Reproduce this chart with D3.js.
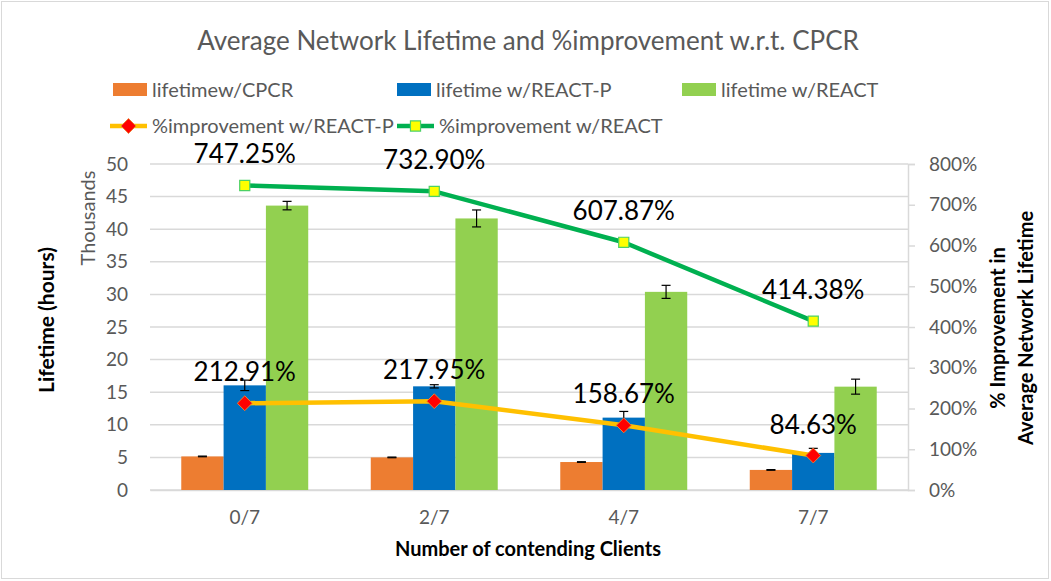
<!DOCTYPE html>
<html>
<head>
<meta charset="utf-8">
<script src="https://cdn.jsdelivr.net/npm/d3@7"></script>
<style>
  html, body { margin: 0; padding: 0; background: #fff; }
  svg { display: block; font-family: Lato, "Open Sans", sans-serif; }
</style>
</head>
<body>
<svg id="chart" width="1051" height="581"></svg>
<script>
// Number of contending clients
const categories = ["0/7", "2/7", "4/7", "7/7"];

// Average lifetime in thousands of hours
const lifetimeCPCR   = [5.15, 5.00, 4.29, 3.08];
const lifetimeReactP = [16.05, 15.90, 11.10, 5.69];
const lifetimeReact  = [43.62, 41.65, 30.39, 15.85];

// Error bar half-widths (thousands of hours)
const errCPCR   = [0.05, 0.05, 0.05, 0.05];
const errReactP = [0.80, 0.25, 0.95, 0.70];
const errReact  = [0.65, 1.30, 1.00, 1.15];

// % improvement over CPCR
const improvReactP = [212.91, 217.95, 158.67, 84.63];
const improvReact  = [747.25, 732.90, 607.87, 414.38];

const leftTicks  = [0, 5, 10, 15, 20, 25, 30, 35, 40, 45, 50];
const rightTicks = [0, 100, 200, 300, 400, 500, 600, 700, 800];

const barSeries = [
  { name: "lifetimew/CPCR",        values: lifetimeCPCR,   err: errCPCR,   color: "#ED7D31" },
  { name: "lifetime w/REACT-P",    values: lifetimeReactP, err: errReactP, color: "#0070C0" },
  { name: "lifetime w/REACT",      values: lifetimeReact,  err: errReact,  color: "#92D050" }
];
const lineSeries = [
  { name: "%improvement w/REACT-P", values: improvReactP, color: "#FFC000", marker: "diamond" },
  { name: "%improvement w/REACT",   values: improvReact,  color: "#00B050", marker: "square" }
];

const svg = d3.select("#chart");
const W = 1051, H = 581;
const plot = { left: 150, right: 908, top: 164, bottom: 490 };
const gridColor = "#D9D9D9";
const textGray = "#595959";
const tickFont = 19;

// chart frame
svg.append("rect").attr("x", 1.5).attr("y", 1.5).attr("width", W - 4).attr("height", H - 4)
  .attr("fill", "#fff").attr("stroke", gridColor).attr("stroke-width", 1);

// scales
const x = d3.scaleBand().domain(categories).range([plot.left, plot.right])
  .paddingInner(0.33).paddingOuter(0.165);
const xs = d3.scaleBand().domain(barSeries.map(s => s.name)).range([0, x.bandwidth()]);
const y = d3.scaleLinear().domain([0, 50]).range([plot.bottom, plot.top]);
const y2 = d3.scaleLinear().domain([0, 800]).range([plot.bottom, plot.top]);
const xc = d => x(d) + x.bandwidth() / 2;

// horizontal gridlines
svg.append("g").selectAll("line").data(leftTicks).join("line")
  .attr("x1", plot.left).attr("x2", plot.right)
  .attr("y1", d => y(d)).attr("y2", d => y(d))
  .attr("stroke", gridColor).attr("stroke-width", 1.5);

// left axis labels
const leftAxis = svg.append("g").attr("transform", `translate(${plot.left},0)`)
  .call(d3.axisLeft(y).tickValues(leftTicks).tickSize(0).tickPadding(22).tickFormat(d3.format("d")));
leftAxis.select(".domain").remove();
leftAxis.selectAll("text").attr("font-size", tickFont).attr("fill", textGray).attr("font-family", "Lato, sans-serif");

// right axis
const rightAxis = svg.append("g").attr("transform", `translate(${plot.right},0)`)
  .call(d3.axisRight(y2).tickValues(rightTicks).tickSize(7).tickPadding(14).tickFormat(d => d + "%"));
rightAxis.select(".domain").attr("stroke", gridColor).attr("stroke-width", 1.5);
rightAxis.selectAll(".tick line").attr("stroke", gridColor).attr("stroke-width", 1.5);
rightAxis.selectAll("text").attr("font-size", tickFont).attr("fill", textGray).attr("font-family", "Lato, sans-serif");

// bottom axis
const bottomAxis = svg.append("g").attr("transform", `translate(0,${plot.bottom})`)
  .call(d3.axisBottom(x).tickSize(0).tickPadding(21));
bottomAxis.select(".domain").attr("stroke", gridColor).attr("stroke-width", 1.5);
bottomAxis.selectAll("text").attr("font-size", tickFont).attr("fill", textGray).attr("font-family", "Lato, sans-serif");

// bars
const barsG = svg.append("g");
barSeries.forEach(s => {
  barsG.append("g").selectAll("rect").data(categories).join("rect")
    .attr("x", (c) => x(c) + xs(s.name))
    .attr("width", xs.bandwidth())
    .attr("y", (c, i) => y(s.values[i]))
    .attr("height", (c, i) => y(0) - y(s.values[i]))
    .attr("fill", s.color);
});

// error bars
const errG = svg.append("g").attr("stroke", "#000").attr("stroke-width", 1.2);
barSeries.forEach(s => {
  categories.forEach((c, i) => {
    const cx = x(c) + xs(s.name) + xs.bandwidth() / 2;
    const hi = y(s.values[i] + s.err[i]), lo = y(s.values[i] - s.err[i]);
    errG.append("line").attr("x1", cx).attr("x2", cx).attr("y1", hi).attr("y2", lo);
    errG.append("line").attr("x1", cx - 4.5).attr("x2", cx + 4.5).attr("y1", hi).attr("y2", hi);
    errG.append("line").attr("x1", cx - 4.5).attr("x2", cx + 4.5).attr("y1", lo).attr("y2", lo);
  });
});

// improvement lines
const diamond = d3.symbol().type(d3.symbolDiamond2).size(140);
const square = d3.symbol().type(d3.symbolSquare2).size(130);
function drawMarker(g, kind, px, py) {
  if (kind === "diamond") {
    g.append("path").attr("d", diamond()).attr("transform", `translate(${px},${py})`)
      .attr("fill", "#FF0000").attr("stroke", "#ED7D31").attr("stroke-width", 1);
  } else {
    g.append("path").attr("d", square()).attr("transform", `translate(${px},${py})`)
      .attr("fill", "#FFFF00").attr("stroke", "#4CD166").attr("stroke-width", 1.2);
  }
}
const lineGen = d3.line().x((d, i) => xc(categories[i])).y(d => y2(d));
lineSeries.forEach(s => {
  const g = svg.append("g");
  g.append("path").datum(s.values).attr("d", lineGen)
    .attr("fill", "none").attr("stroke", s.color).attr("stroke-width", 4.5).attr("stroke-linejoin", "round");
  s.values.forEach((v, i) => drawMarker(g, s.marker, xc(categories[i]), y2(v)));
  g.selectAll("text").data(s.values).join("text")
    .attr("x", (d, i) => xc(categories[i]))
    .attr("y", d => y2(d) - 22)
    .attr("text-anchor", "middle")
    .attr("font-size", 26)
    .attr("fill", "#000")
    .text(d => d.toFixed(2) + "%");
});

// title
svg.append("text").attr("x", 528).attr("y", 50).attr("text-anchor", "middle")
  .attr("font-size", 26).attr("fill", textGray)
  .text("Average Network Lifetime and %improvement  w.r.t. CPCR");

// axis titles
svg.append("text").attr("transform", "translate(95,218) rotate(-90)").attr("text-anchor", "middle")
  .attr("font-size", 20).attr("fill", textGray).text("Thousands");
svg.append("text").attr("transform", "translate(54,320) rotate(-90)").attr("text-anchor", "middle")
  .attr("font-size", 21).attr("font-weight", "bold").attr("fill", "#000").text("Lifetime (hours)");
svg.append("text").attr("x", 528).attr("y", 556).attr("text-anchor", "middle")
  .attr("font-size", 20).attr("font-weight", "bold").attr("fill", "#000").text("Number of contending Clients");
const rt = svg.append("text").attr("transform", "translate(1005,328) rotate(-90)").attr("text-anchor", "middle")
  .attr("font-size", 20).attr("font-weight", "bold").attr("fill", "#000");
rt.append("tspan").attr("x", 0).attr("dy", 0).text("% Improvement in");
rt.append("tspan").attr("x", 0).attr("dy", 28).text("Average Network Lifetime");

// legend
const legendFont = 20;
const legendBars = [
  { s: barSeries[0], x: 113 },
  { s: barSeries[1], x: 397 },
  { s: barSeries[2], x: 682 }
];
const lg = svg.append("g");
legendBars.forEach(d => {
  lg.append("rect").attr("x", d.x).attr("y", 83).attr("width", 34).attr("height", 13).attr("fill", d.s.color);
  lg.append("text").attr("x", d.x + 39).attr("y", 96.5).attr("font-size", legendFont).attr("fill", textGray).text(d.s.name);
});
const legendLines = [
  { s: lineSeries[0], x: 110 },
  { s: lineSeries[1], x: 397 }
];
legendLines.forEach(d => {
  lg.append("line").attr("x1", d.x).attr("x2", d.x + 37).attr("y1", 126).attr("y2", 126)
    .attr("stroke", d.s.color).attr("stroke-width", 4.5);
  drawMarker(lg, d.s.marker, d.x + 18.5, 126);
  lg.append("text").attr("x", d.x + 42).attr("y", 133).attr("font-size", legendFont).attr("fill", textGray).text(d.s.name);
});
</script>
</body>
</html>
